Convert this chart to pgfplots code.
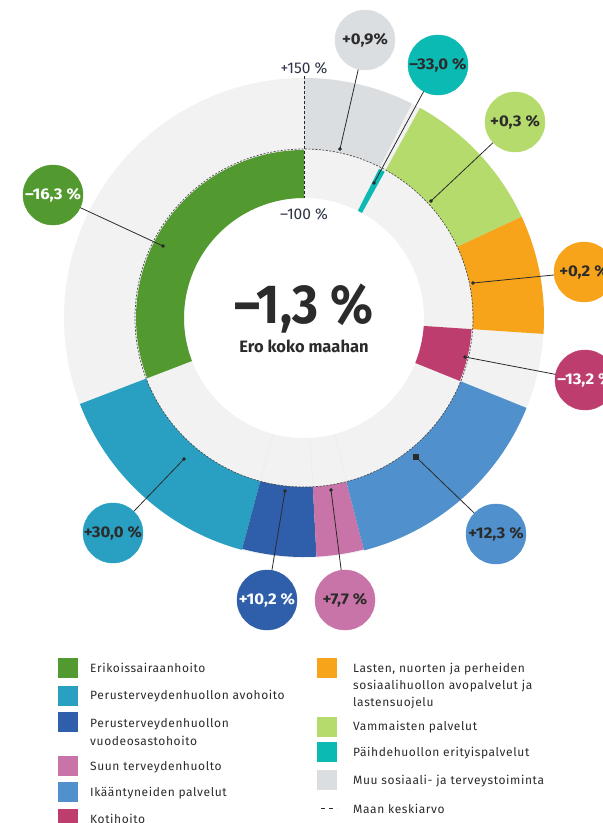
\documentclass[border=0pt]{standalone}
\usepackage{fontspec}
\setmainfont{Fira Sans}
\usepackage{pgfplots}
\pgfplotsset{compat=1.18}
\usepackage{pgfplotstable}

\definecolor{cbg}{HTML}{F2F2F2}
\definecolor{cers}{HTML}{529A30}
\definecolor{cavo}{HTML}{29A0C1}
\definecolor{cvuo}{HTML}{2F5FAA}
\definecolor{csuu}{HTML}{C974A8}
\definecolor{cika}{HTML}{5090CC}
\definecolor{ckot}{HTML}{BD3E6E}
\definecolor{clas}{HTML}{F7A41B}
\definecolor{cvam}{HTML}{B5DB6D}
\definecolor{cpai}{HTML}{0CBAB4}
\definecolor{cmuu}{HTML}{DBDEE1}
\definecolor{ctxt}{HTML}{2B2B2B}
\definecolor{cnavy}{HTML}{2D3447}

\pgfdeclareplotmark{sector}{%
  \pgfmathsetmacro\sRi{\secRi}%
  \pgfmathsetmacro\sRo{\secRo}%
  \pgfpathmoveto{\pgfpointpolar{\secA}{\sRi pt}}%
  \pgfpatharc{\secA}{\secB}{\sRi pt}%
  \pgfpathlineto{\pgfpointpolar{\secB}{\sRo pt}}%
  \pgfpatharc{\secB}{\secA}{\sRo pt}%
  \pgfpathclose
  \pgfusepathqfill}

% sectors: centre (x,y), start/end angle (deg), inner/outer radius, class
\pgfplotstableread{
x y a0 a1 ri ro cls
304 318 0 360 120 240 bg
304 318 90 201 120 168 ers
304 318 -159 -105 169 240 avo
304 318 -105 -87 169 239 vuo
304 318 -87 -75.5 169 239 suu
304 318 -75.5 -22 169 240 ika
304 318 -22 -3.8 120 168 kot
304 318 -3.8 25 169 240 las
304 318 25 61.1 169 240 vam
304 318 61.1 63.3 120 167 pai
304 318 63.3 90 169 240 muu
}\sectors

\newcommand\bub[1]{\scalebox{1.08}[1]{#1}}
\tikzset{lbl/.style={font=\bfseries\fontsize{15.5}{15.5}\selectfont},
  leg/.style={anchor=west, font=\fontsize{12}{12}\selectfont\addfontfeatures{LetterSpace=5}, text=ctxt, inner sep=0pt}}

\begin{document}
\begin{tikzpicture}
\begin{axis}[x=1pt, y=1pt, xmin=0, xmax=603, ymin=0, ymax=823,
  y dir=reverse, hide axis, clip=false, clip marker paths=true]

\addplot[scatter, only marks, scatter src=explicit symbolic,
  scatter/classes={
    bg={mark=sector,fill=cbg,draw=none},
    ers={mark=sector,fill=cers,draw=none},
    avo={mark=sector,fill=cavo,draw=none},
    vuo={mark=sector,fill=cvuo,draw=none},
    suu={mark=sector,fill=csuu,draw=none},
    ika={mark=sector,fill=cika,draw=none},
    kot={mark=sector,fill=ckot,draw=none},
    las={mark=sector,fill=clas,draw=none},
    vam={mark=sector,fill=cvam,draw=none},
    pai={mark=sector,fill=cpai,draw=none},
    muu={mark=sector,fill=cmuu,draw=none}},
  visualization depends on={\thisrow{a0}\as\secA},
  visualization depends on={\thisrow{a1}\as\secB},
  visualization depends on={\thisrow{ri}\as\secRi},
  visualization depends on={\thisrow{ro}\as\secRo},
] table[meta=cls] {\sectors};

% faint separators in the inner ring
\addplot[black!8, line width=0.5pt] coordinates {(260,482) (273,434)};
\addplot[black!8, line width=0.5pt] coordinates {(313,487) (310,438)};
\addplot[black!8, line width=0.5pt] coordinates {(347,482) (335,434)};

% national average (dashed circle)
\addplot[only marks, mark=o, mark size=169pt,
  mark options={draw=black!70, line width=0.7pt, dash pattern=on 2pt off 1.5pt}]
  coordinates {(304,318)};
% scale line -100 % ... +150 %
\addplot[black!85, line width=0.9pt, dash pattern=on 3pt off 2pt]
  coordinates {(304,76) (304,198)};

% leader lines
\addplot[ctxt, line width=0.8pt] coordinates {(163,246) (53,195)};
\addplot[ctxt, line width=0.8pt] coordinates {(184,459) (113,533)};
\addplot[ctxt, line width=0.8pt] coordinates {(285,491) (267,600)};
\addplot[ctxt, line width=0.8pt] coordinates {(331,490) (345,600)};
\addplot[ctxt, line width=0.8pt] coordinates {(416,457) (496,534)};
\addplot[ctxt, line width=0.8pt] coordinates {(465,357) (585,380)};
\addplot[ctxt, line width=0.8pt] coordinates {(473,283) (584,272)};
\addplot[ctxt, line width=0.8pt] coordinates {(431,201) (515,122)};
\addplot[ctxt, line width=0.8pt] coordinates {(374,183) (438,65)};
\addplot[ctxt, line width=0.8pt] coordinates {(340,149) (365,40)};
\addplot[ctxt, only marks, mark=*, mark size=1.6pt]
  coordinates {(163,246) (184,459) (285,491) (331,490) (465,357) (473,283) (431,201) (374,183) (340,149)};
\addplot[ctxt, only marks, mark=square*, mark size=2.5pt] coordinates {(416,457)};

% bubbles
\addplot[cers, only marks, mark=*, mark size=30pt,
  nodes near coords, point meta=explicit symbolic, nodes near coords align=center,
  nodes near coords style={lbl, text=white}] coordinates {(53,195) [{\bub{–16,3 \%}}]};
\addplot[cavo, only marks, mark=*, mark size=30pt,
  nodes near coords, point meta=explicit symbolic, nodes near coords align=center,
  nodes near coords style={lbl, text=ctxt}] coordinates {(113,533) [{\bub{+30,0 \%}}]};
\addplot[cvuo, only marks, mark=*, mark size=30pt,
  nodes near coords, point meta=explicit symbolic, nodes near coords align=center,
  nodes near coords style={lbl, text=white}] coordinates {(267,600) [{\bub{+10,2 \%}}]};
\addplot[csuu, only marks, mark=*, mark size=30pt,
  nodes near coords, point meta=explicit symbolic, nodes near coords align=center,
  nodes near coords style={lbl, text=ctxt}] coordinates {(345,600) [{\bub{+7,7 \%}}]};
\addplot[cika, only marks, mark=*, mark size=30pt,
  nodes near coords, point meta=explicit symbolic, nodes near coords align=center,
  nodes near coords style={lbl, text=ctxt}] coordinates {(496,534) [{\bub{+12,3 \%}}]};
\addplot[ckot, only marks, mark=*, mark size=30pt,
  nodes near coords, point meta=explicit symbolic, nodes near coords align=center,
  nodes near coords style={lbl, text=white}] coordinates {(585,380) [{\bub{–13,2 \%}}]};
\addplot[clas, only marks, mark=*, mark size=30pt,
  nodes near coords, point meta=explicit symbolic, nodes near coords align=center,
  nodes near coords style={lbl, text=ctxt}] coordinates {(584,272) [{\bub{+0,2 \%}}]};
\addplot[cvam, only marks, mark=*, mark size=30pt,
  nodes near coords, point meta=explicit symbolic, nodes near coords align=center,
  nodes near coords style={lbl, text=ctxt}] coordinates {(515,122) [{\bub{+0,3 \%}}]};
\addplot[cpai, only marks, mark=*, mark size=30pt,
  nodes near coords, point meta=explicit symbolic, nodes near coords align=center,
  nodes near coords style={lbl, text=ctxt}] coordinates {(438,65) [{\bub{–33,0 \%}}]};
\addplot[cmuu, only marks, mark=*, mark size=30pt,
  nodes near coords, point meta=explicit symbolic, nodes near coords align=center,
  nodes near coords style={lbl, text=ctxt}] coordinates {(365,40) [{\bub{+0,9\%}}]};

% scale and centre texts
\node[font=\fontsize{15.5}{15.5}\selectfont, text=cnavy] at (axis cs:304,68) {+150 \%};
\node[font=\fontsize{15.5}{15.5}\selectfont, text=cnavy] at (axis cs:304,214) {–100 \%};
\node[font=\bfseries\fontsize{50}{50}\selectfont, text=ctxt] at (axis cs:304,309) {\scalebox{1}[1.1]{–1,3 \%}};
\node[font=\bfseries\fontsize{16.5}{16.5}\selectfont, text=ctxt] at (axis cs:304,346) {Ero koko maahan};

% legend
\addplot[cers, only marks, mark=square*, mark size=9.5pt] coordinates {(67.5,668)};
\addplot[cavo, only marks, mark=square*, mark size=9.5pt] coordinates {(67.5,696)};
\addplot[cvuo, only marks, mark=square*, mark size=9.5pt] coordinates {(67.5,722)};
\addplot[csuu, only marks, mark=square*, mark size=9.5pt] coordinates {(67.5,766)};
\addplot[cika, only marks, mark=square*, mark size=9.5pt] coordinates {(67.5,792)};
\addplot[ckot, only marks, mark=square*, mark size=9.5pt] coordinates {(67.5,819)};
\addplot[clas, only marks, mark=square*, mark size=9.5pt] coordinates {(326.5,668)};
\addplot[cvam, only marks, mark=square*, mark size=9.5pt] coordinates {(326.5,727)};
\addplot[cpai, only marks, mark=square*, mark size=9.5pt] coordinates {(326.5,752)};
\addplot[cmuu, only marks, mark=square*, mark size=9.5pt] coordinates {(326.5,780)};
\addplot[ctxt, line width=0.8pt, dash pattern=on 4pt off 4pt] coordinates {(321,808) (337,808)};

\node[leg] at (axis cs:90,668) {Erikoissairaanhoito};
\node[leg] at (axis cs:90,696) {Perusterveydenhuollon avohoito};
\node[leg] at (axis cs:90,724) {Perusterveydenhuollon};
\node[leg] at (axis cs:90,741) {vuodeosastohoito};
\node[leg] at (axis cs:90,767) {Suun terveydenhuolto};
\node[leg] at (axis cs:90,793) {Ikääntyneiden palvelut};
\node[leg] at (axis cs:90,819) {Kotihoito};
\node[leg] at (axis cs:353,669) {Lasten, nuorten ja perheiden};
\node[leg] at (axis cs:353,686) {sosiaalihuollon avopalvelut ja};
\node[leg] at (axis cs:353,703) {lastensuojelu};
\node[leg] at (axis cs:353,727) {Vammaisten palvelut};
\node[leg] at (axis cs:353,753) {Päihdehuollon erityispalvelut};
\node[leg] at (axis cs:353,781) {Muu sosiaali- ja terveystoiminta};
\node[leg] at (axis cs:353,809) {Maan keskiarvo};
\end{axis}
\pgfresetboundingbox
\path[use as bounding box] (current axis.south west) rectangle (current axis.north east);
\end{tikzpicture}
\end{document}
